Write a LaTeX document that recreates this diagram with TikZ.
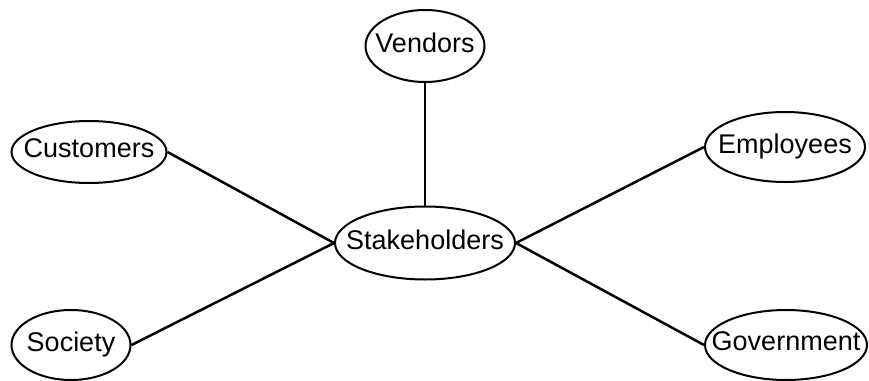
\documentclass[tikz,border=0pt]{standalone}
\usepackage{fontspec}
\setmainfont{Liberation Sans}
\usetikzlibrary{shapes.geometric}

\newcommand{\partylabel}[1]{\makebox[0pt]{\rule[-7pt]{0pt}{24pt}#1}}

\tikzset{
  party/.style={draw, ellipse, inner sep=0pt, minimum height=70pt, line width=2pt, font=\fontsize{27}{30}\selectfont},
}

\begin{document}
\begin{tikzpicture}[x=1pt, y=-1pt, line width=2.5pt]
\useasboundingbox (0,0) rectangle (869,380);
\node[party, minimum width=119pt, minimum height=72pt] (vendors) at (425,46) {\partylabel{Vendors}};
\node[party, minimum width=155pt, minimum height=62pt] (customers) at (89,152) {\partylabel{Customers}};
\node[party, minimum width=160pt] (employees) at (785,147) {\partylabel{Employees}};
\node[party, minimum width=180pt, minimum height=73pt] (stake) at (425,243) {\partylabel{Stakeholders}};
\node[party, minimum width=119pt] (society) at (71,345) {\partylabel{Society}};
\node[party, minimum width=162pt] (gov) at (786,345) {\partylabel{Government}};

\draw (vendors) -- (stake);
\draw (customers.east) -- (stake.west);
\draw (society.east) -- (stake.west);
\draw (employees.west) -- (stake.east);
\draw (gov.west) -- (stake.east);
\end{tikzpicture}
\end{document}
